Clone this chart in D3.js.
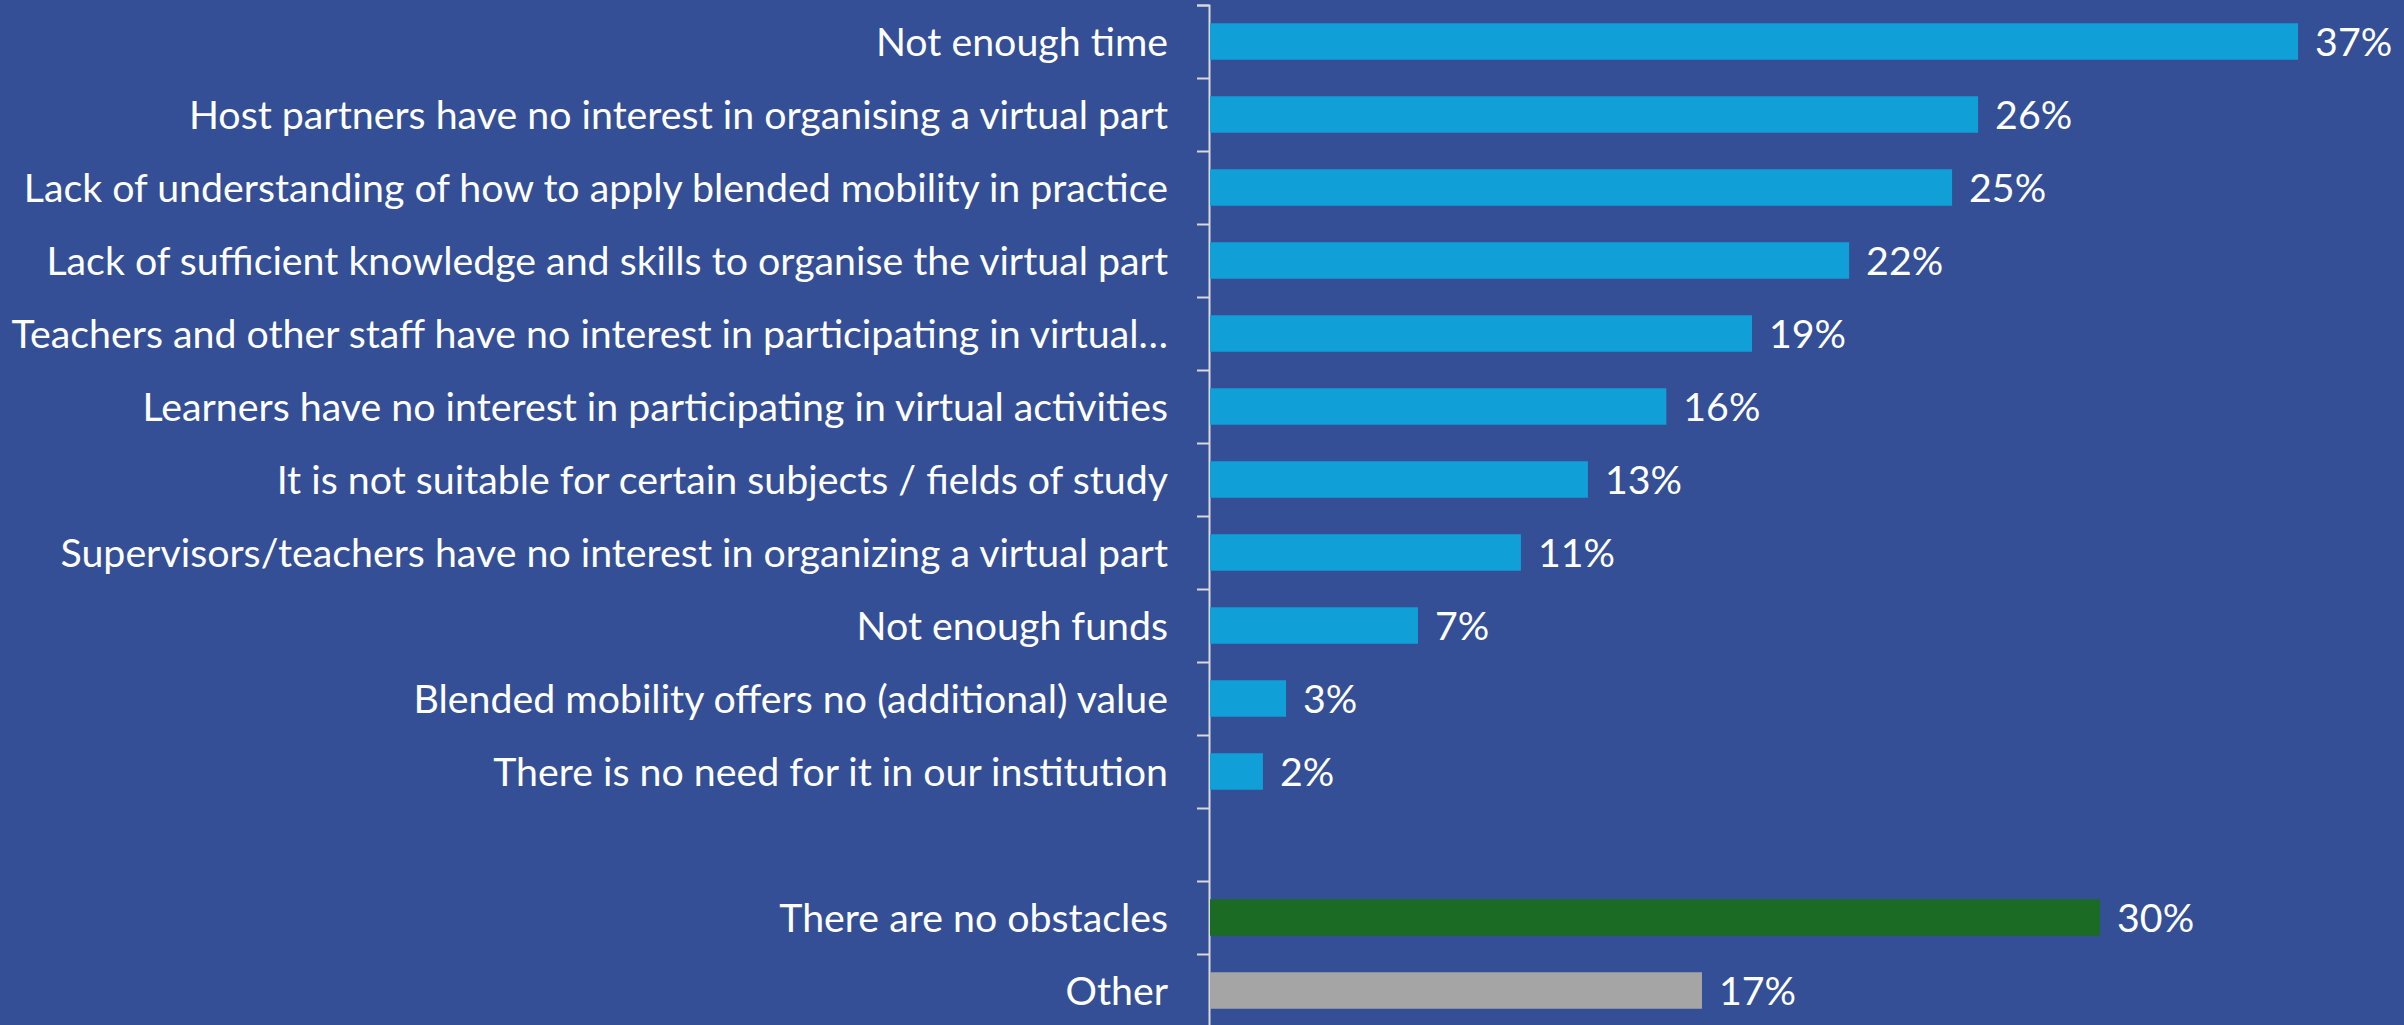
<!DOCTYPE html>
<html>
<head>
<meta charset="utf-8">
<script src="https://cdn.jsdelivr.net/npm/d3@7"></script>
<style>
  html, body { margin: 0; padding: 0; background: #344F96; }
  svg { display: block; }
</style>
</head>
<body>
<svg id="chart" width="2404" height="1025"></svg>
<script>
// ---- data ----
const categories = [
  "Not enough time",
  "Host partners have no interest in organising a virtual part",
  "Lack of understanding of how to apply blended mobility in practice",
  "Lack of sufficient knowledge and skills to organise the virtual part",
  "Teachers and other staff have no interest in participating in virtual\u2026",
  "Learners have no interest in participating in virtual activities",
  "It is not suitable for certain subjects / fields of study",
  "Supervisors/teachers have no interest in organizing a virtual part",
  "Not enough funds",
  "Blended mobility offers no (additional) value",
  "There is no need for it in our institution",
  "",
  "There are no obstacles",
  "Other"
];
const values = [0.372, 0.2626, 0.2537, 0.2185, 0.1853, 0.156, 0.1292, 0.1063, 0.0711, 0.026, 0.0181, null, 0.3043, 0.1682];
const groups = ["main","main","main","main","main","main","main","main","main","main","main","blank","none","other"];
const groupColors = { main: "#119FD8", none: "#1B6B24", other: "#A5A5A5" };
const xDomain = [0, 0.40];

// ---- layout ----
const W = 2404, H = 1025;
const axisX = 1209;
const plotTop = 5, step = 73;
const plotBottom = plotTop + step * categories.length;
const pxPer = 29.25 * 100;

const svg = d3.select("#chart");
svg.append("rect").attr("width", W).attr("height", H).attr("fill", "#344F96");

const keys = categories.map((c, i) => i);
const y = d3.scaleBand().domain(keys).range([plotTop, plotBottom]).paddingInner(0.5).paddingOuter(0.25);
const x = d3.scaleLinear().domain(xDomain).range([axisX + 1, axisX + 1 + pxPer * xDomain[1]]);
const slot = d3.scaleLinear().domain([0, categories.length]).range([plotTop, plotBottom]);

const font = "Lato, 'Open Sans', sans-serif";
const fs = 39.3;

const axisG = svg.append("g").attr("transform", `translate(${axisX},0)`)
  .call(d3.axisLeft(slot).tickValues(d3.range(categories.length + 1)).tickSize(12).tickSizeOuter(12).tickFormat(""));
axisG.selectAll("path").attr("stroke", "#D9D9D9").attr("stroke-width", 2);
axisG.selectAll("line").attr("stroke", "#D9D9D9").attr("stroke-width", 2);

const rows = keys.map(i => ({ i, cat: categories[i], v: values[i], g: groups[i] })).filter(d => d.v !== null);

svg.append("g").selectAll("rect").data(rows).join("rect")
  .attr("x", x(0))
  .attr("y", d => y(d.i))
  .attr("width", d => x(d.v) - x(0))
  .attr("height", y.bandwidth())
  .attr("fill", d => groupColors[d.g]);

svg.append("g").selectAll("text").data(rows).join("text")
  .attr("x", axisX - 41)
  .attr("y", d => y(d.i) + y.bandwidth() / 2)
  .attr("dy", "0.36em")
  .attr("text-anchor", "end")
  .attr("fill", "#FFFFFF")
  .style("font-family", font)
  .style("font-size", fs + "px")
  .text(d => d.cat);

const fmt = d3.format(".0%");
svg.append("g").selectAll("text").data(rows).join("text")
  .attr("x", d => x(d.v) + 17)
  .attr("y", d => y(d.i) + y.bandwidth() / 2)
  .attr("dy", "0.36em")
  .attr("fill", "#FFFFFF")
  .style("font-family", font)
  .style("font-size", fs + "px")
  .text(d => fmt(d.v));
</script>
</body>
</html>
